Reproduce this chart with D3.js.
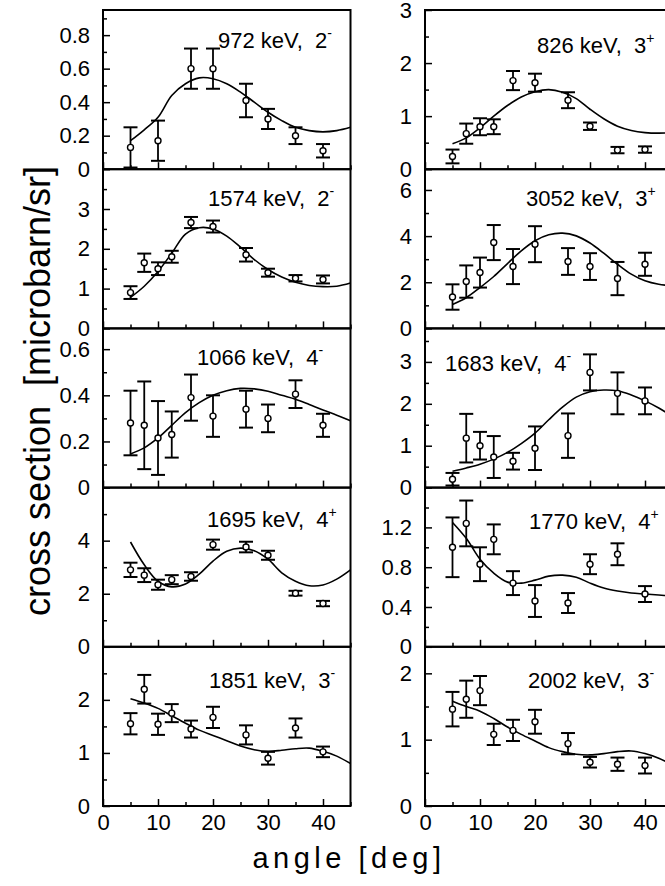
<!DOCTYPE html>
<html>
<head>
<meta charset="utf-8">
<script src="https://cdn.jsdelivr.net/npm/d3@7"></script>
<style>
  body { margin: 0; background: #fff; }
  svg { display: block; font-family: "Liberation Sans", Arial, sans-serif; }
</style>
</head>
<body>
<svg id="chart" width="665" height="886"></svg>
<script>
// Measured angles (deg)
const anglesAll = [5, 7.5, 10, 12.5, 16, 20, 26, 30, 35, 40];
const angles972 = [5, 10, 16, 20, 26, 30, 35, 40];
const fitAngles = [5, 7.5, 10, 12.5, 15, 17.5, 20, 22.5, 25, 27.5, 30, 32.5, 35, 37.5, 40, 42.5, 45];

// Left column
const cs972  = [0.13, 0.17, 0.60, 0.60, 0.41, 0.30, 0.20, 0.11];
const err972 = [0.12, 0.12, 0.12, 0.12, 0.10, 0.06, 0.05, 0.04];
const fit972 = [0.17, 0.235, 0.31, 0.44, 0.51, 0.545, 0.54, 0.51, 0.46, 0.40, 0.34, 0.29, 0.25, 0.23, 0.223, 0.23, 0.25];

const cs1574  = [0.9, 1.65, 1.5, 1.8, 2.66, 2.56, 1.85, 1.4, 1.26, 1.23];
const err1574 = [0.16, 0.23, 0.16, 0.15, 0.14, 0.15, 0.17, 0.1, 0.08, 0.1];
const fit1574 = [0.78, 1.06, 1.43, 1.89, 2.37, 2.53, 2.5, 2.32, 2.04, 1.73, 1.48, 1.29, 1.16, 1.08, 1.05, 1.06, 1.14];

const cs1066  = [0.28, 0.27, 0.215, 0.23, 0.39, 0.31, 0.34, 0.30, 0.405, 0.27];
const err1066 = [0.14, 0.19, 0.16, 0.10, 0.10, 0.09, 0.08, 0.06, 0.06, 0.05];
const fit1066 = [0.146, 0.172, 0.215, 0.27, 0.325, 0.368, 0.40, 0.42, 0.43, 0.428, 0.418, 0.40, 0.383, 0.36, 0.336, 0.314, 0.29];

const cs1695  = [2.9, 2.7, 2.34, 2.53, 2.65, 3.85, 3.76, 3.45, 2.02, 1.63];
const err1695 = [0.27, 0.26, 0.19, 0.17, 0.16, 0.19, 0.2, 0.17, 0.09, 0.1];
const fit1695 = [3.95, 3.09, 2.47, 2.26, 2.37, 2.74, 3.23, 3.6, 3.72, 3.62, 3.3, 2.79, 2.47, 2.3, 2.33, 2.55, 2.9];

const cs1851  = [1.55, 2.2, 1.54, 1.75, 1.45, 1.67, 1.34, 0.9, 1.47, 1.02];
const err1851 = [0.2, 0.27, 0.2, 0.17, 0.16, 0.2, 0.18, 0.12, 0.18, 0.1];
const fit1851 = [2.02, 1.94, 1.84, 1.7, 1.56, 1.43, 1.33, 1.23, 1.13, 1.06, 1.03, 1.05, 1.08, 1.09, 1.03, 0.94, 0.8];

// Right column
const cs826  = [0.24, 0.67, 0.8, 0.8, 1.67, 1.63, 1.3, 0.81, 0.36, 0.37];
const err826 = [0.13, 0.19, 0.16, 0.14, 0.18, 0.17, 0.15, 0.07, 0.06, 0.06];
const fit826 = [0.48, 0.59, 0.78, 1.0, 1.2, 1.36, 1.46, 1.5, 1.45, 1.33, 1.13, 0.95, 0.81, 0.73, 0.69, 0.68, 0.69];

const cs3052  = [1.36, 2.03, 2.42, 3.72, 2.68, 3.65, 2.9, 2.68, 2.16, 2.78];
const err3052 = [0.55, 0.7, 0.65, 0.76, 0.76, 0.78, 0.58, 0.58, 0.72, 0.5];
const fit3052 = [1.04, 1.33, 1.77, 2.25, 2.81, 3.36, 3.8, 4.06, 4.13, 4.01, 3.7, 3.26, 2.78, 2.35, 2.06, 1.91, 1.85];

const cs1683  = [0.2, 1.18, 1.0, 0.73, 0.63, 0.94, 1.24, 2.75, 2.25, 2.07];
const err1683 = [0.15, 0.58, 0.33, 0.5, 0.2, 0.52, 0.53, 0.43, 0.5, 0.32];
const fit1683 = [0.39, 0.47, 0.56, 0.68, 0.84, 1.05, 1.3, 1.62, 1.92, 2.16, 2.29, 2.33, 2.31, 2.21, 2.07, 1.9, 1.7];

const cs1770  = [1.0, 1.24, 0.83, 1.08, 0.64, 0.46, 0.44, 0.83, 0.93, 0.53];
const err1770 = [0.3, 0.23, 0.17, 0.15, 0.12, 0.16, 0.1, 0.1, 0.11, 0.08];
const fit1770 = [1.25, 1.09, 0.88, 0.74, 0.65, 0.64, 0.67, 0.71, 0.72, 0.7, 0.64, 0.59, 0.56, 0.54, 0.53, 0.52, 0.51];

const cs2002  = [1.46, 1.61, 1.74, 1.08, 1.14, 1.27, 0.94, 0.66, 0.63, 0.61];
const err2002 = [0.26, 0.28, 0.22, 0.16, 0.16, 0.18, 0.16, 0.08, 0.1, 0.12];
const fit2002 = [1.58, 1.5, 1.43, 1.32, 1.19, 1.08, 0.98, 0.88, 0.82, 0.78, 0.77, 0.79, 0.82, 0.83, 0.79, 0.72, 0.62];

// Tick labels
const xTicks = [0, 10, 20, 30, 40];
const xMinorTicks = [5, 15, 25, 35, 45];

// Panel setup (col, row, y range, ticks, label)
const panels = [
  { col: 0, row: 0, energy: '972',  spin: '2', parity: '-', ang: angles972, cs: cs972,  err: err972,  fit: fit972,  ymax: 0.95, ticks: [0, 0.2, 0.4, 0.6, 0.8], minor: 0.1, lx: 115, ly: 38 },
  { col: 0, row: 1, energy: '1574', spin: '2', parity: '-', ang: anglesAll, cs: cs1574, err: err1574, fit: fit1574, ymax: 4,    ticks: [0, 1, 2, 3],            minor: 0.5, lx: 105, ly: 37 },
  { col: 0, row: 2, energy: '1066', spin: '4', parity: '-', ang: anglesAll, cs: cs1066, err: err1066, fit: fit1066, ymax: 0.69, ticks: [0, 0.2, 0.4, 0.6],      minor: 0.1, lx: 94,  ly: 37 },
  { col: 0, row: 3, energy: '1695', spin: '4', parity: '+', ang: anglesAll, cs: cs1695, err: err1695, fit: fit1695, ymax: 6,    ticks: [0, 2, 4],               minor: 1,   lx: 104, ly: 39 },
  { col: 0, row: 4, energy: '1851', spin: '3', parity: '-', ang: anglesAll, cs: cs1851, err: err1851, fit: fit1851, ymax: 3,    ticks: [0, 1, 2],               minor: 0.5, lx: 106, ly: 41 },
  { col: 1, row: 0, energy: '826',  spin: '3', parity: '+', ang: anglesAll, cs: cs826,  err: err826,  fit: fit826,  ymax: 3,    ticks: [0, 1, 2, 3],            minor: 0.5, lx: 112, ly: 43 },
  { col: 1, row: 1, energy: '3052', spin: '3', parity: '+', ang: anglesAll, cs: cs3052, err: err3052, fit: fit3052, ymax: 6.9,  ticks: [0, 2, 4, 6],            minor: 1,   lx: 101, ly: 37 },
  { col: 1, row: 2, energy: '1683', spin: '4', parity: '-', ang: anglesAll, cs: cs1683, err: err1683, fit: fit1683, ymax: 3.8,  ticks: [0, 1, 2, 3],            minor: 0.5, lx: 20,  ly: 43 },
  { col: 1, row: 3, energy: '1770', spin: '4', parity: '+', ang: anglesAll, cs: cs1770, err: err1770, fit: fit1770, ymax: 1.6,  ticks: [0, 0.4, 0.8, 1.2],      minor: 0.2, lx: 104, ly: 41 },
  { col: 1, row: 4, energy: '2002', spin: '3', parity: '-', ang: anglesAll, cs: cs2002, err: err2002, fit: fit2002, ymax: 2.4,  ticks: [0, 1, 2],               minor: 0.5, lx: 103, ly: 41 }
];

// Layout
const colX = [103, 425];
const plotW = 247.5;
const topY = 10;
const panelH = 159.2;

const svg = d3.select('#chart');

panels.forEach((p, i) => {
  const g = svg.append('g')
    .attr('transform', `translate(${colX[p.col]},${topY + p.row * panelH})`);

  const x = d3.scaleLinear().domain([0, 45]).range([0, plotW]);
  const y = d3.scaleLinear().domain([0, p.ymax]).range([panelH, 0]);

  // clip for the fitted curve
  g.append('clipPath').attr('id', 'clip' + i)
    .append('rect').attr('width', plotW).attr('height', panelH);

  // minor y ticks
  const minorVals = d3.range(p.minor, p.ymax, p.minor * 2).map(v => +v.toFixed(3));
  g.append('g')
    .call(d3.axisLeft(y).tickValues(minorVals).tickSize(-4).tickFormat(''))
    .call(a => a.select('.domain').remove());

  // major y ticks + labels
  g.append('g')
    .call(d3.axisLeft(y).tickValues(p.ticks).tickSize(-7).tickPadding(13).tickFormat(d3.format('~g')))
    .call(a => a.select('.domain').remove());

  // x ticks
  g.append('g').attr('transform', `translate(0,${panelH})`)
    .call(d3.axisBottom(x).tickValues(xMinorTicks).tickSize(-4).tickFormat(''))
    .call(a => a.select('.domain').remove());
  g.append('g').attr('transform', `translate(0,${panelH})`)
    .call(d3.axisBottom(x).tickValues(xTicks).tickSize(-7).tickPadding(8)
      .tickFormat(p.row === 4 ? d3.format('d') : ''))
    .call(a => a.select('.domain').remove());

  g.selectAll('.tick line').attr('stroke', '#000').attr('stroke-width', 1.5);
  g.selectAll('.tick text').attr('fill', '#000').attr('font-size', 22)
    .attr('font-family', '"Liberation Sans", Arial, sans-serif');

  // frame
  g.append('rect')
    .attr('width', plotW).attr('height', panelH)
    .attr('fill', 'none').attr('stroke', '#000').attr('stroke-width', 2);

  // fitted curve
  const line = d3.line()
    .x((d, k) => x(fitAngles[k]))
    .y(d => y(d))
    .curve(d3.curveCatmullRom.alpha(0.5));
  g.append('path')
    .attr('d', line(p.fit))
    .attr('clip-path', `url(#clip${i})`)
    .attr('fill', 'none').attr('stroke', '#000').attr('stroke-width', 1.6);

  // error bars
  const pts = p.ang.map((a, k) => ({ a, v: p.cs[k], e: p.err[k] }));
  const bars = g.append('g').attr('stroke', '#000');
  bars.selectAll('.ebar').data(pts).enter().append('line')
    .attr('x1', d => x(d.a)).attr('x2', d => x(d.a))
    .attr('y1', d => y(d.v - d.e)).attr('y2', d => y(d.v + d.e))
    .attr('stroke-width', 1.8);
  bars.selectAll('.ecapT').data(pts).enter().append('line')
    .attr('x1', d => x(d.a) - 7).attr('x2', d => x(d.a) + 7)
    .attr('y1', d => y(d.v + d.e)).attr('y2', d => y(d.v + d.e))
    .attr('stroke-width', 2);
  bars.selectAll('.ecapB').data(pts).enter().append('line')
    .attr('x1', d => x(d.a) - 7).attr('x2', d => x(d.a) + 7)
    .attr('y1', d => y(Math.max(d.v - d.e, 0))).attr('y2', d => y(Math.max(d.v - d.e, 0)))
    .attr('stroke-width', 2);

  // open circle markers
  g.selectAll('.pt').data(pts).enter().append('circle')
    .attr('cx', d => x(d.a)).attr('cy', d => y(d.v)).attr('r', 3)
    .attr('fill', '#fff').attr('stroke', '#000').attr('stroke-width', 1.4);

  // panel label
  const t = g.append('text')
    .attr('x', p.lx).attr('y', p.ly)
    .attr('font-size', 22)
    .style('white-space', 'pre');
  t.append('tspan').text(`${p.energy} keV,  ${p.spin}`);
  t.append('tspan').attr('dy', -10).attr('font-size', 14).text(p.parity);
});

// axis titles
svg.append('text')
  .attr('transform', 'translate(50,391) rotate(-90)')
  .attr('text-anchor', 'middle')
  .attr('font-size', 36)
  .style('white-space', 'pre')
  .text('cross section  [microbarn/sr]');

svg.append('text')
  .attr('x', 349).attr('y', 868)
  .attr('text-anchor', 'middle')
  .attr('font-size', 29)
  .attr('letter-spacing', 4.5)
  .style('white-space', 'pre')
  .text('angle [deg]');
</script>
</body>
</html>
